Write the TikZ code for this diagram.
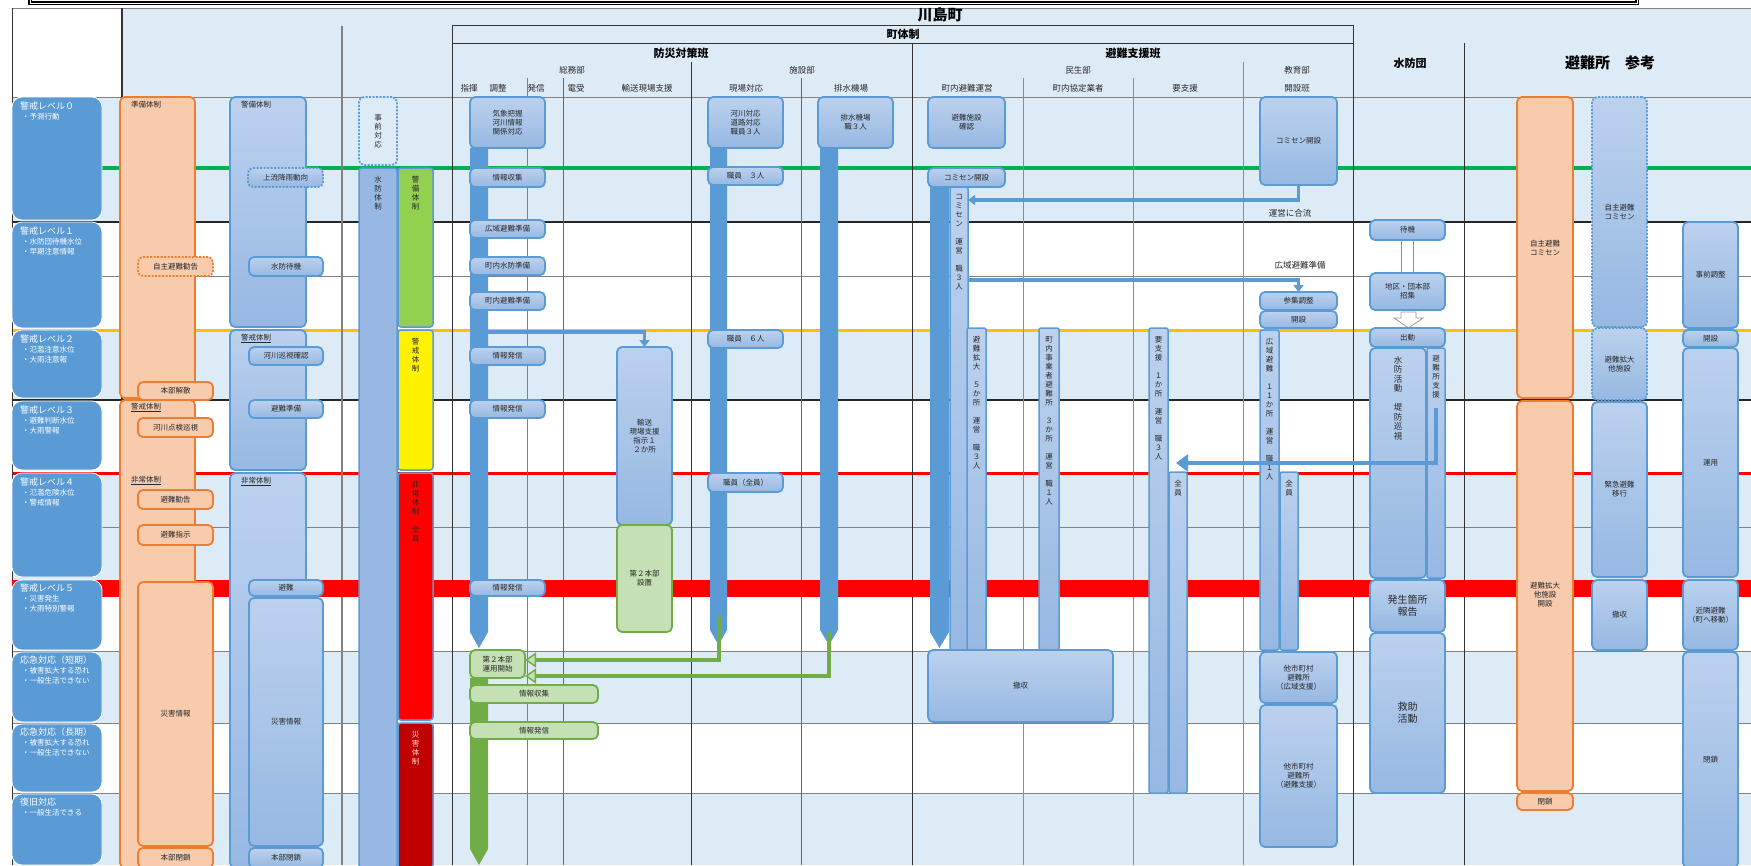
\documentclass[tikz,border=0pt]{standalone}
\usepackage{fontspec}
\setmainfont{Noto Sans CJK JP}
\usetikzlibrary{arrows.meta,calc}
\definecolor{bgb}{RGB}{221,235,247}
\definecolor{lvb}{RGB}{91,155,213}
\definecolor{bxb}{RGB}{150,184,226}
\definecolor{bxt}{RGB}{188,209,238}
\definecolor{bxd}{RGB}{91,155,213}
\definecolor{orf}{RGB}{248,203,173}
\definecolor{ord}{RGB}{237,125,49}
\definecolor{grf}{RGB}{197,224,180}
\definecolor{grd}{RGB}{112,173,71}
\definecolor{lnG}{RGB}{0,176,80}
\definecolor{lnY}{RGB}{255,192,0}
\definecolor{lnR}{RGB}{255,0,0}
\definecolor{gyl}{RGB}{130,130,130}
\definecolor{txt}{RGB}{40,40,40}
\definecolor{dkred}{RGB}{192,0,0}
\definecolor{lgreen}{RGB}{146,208,80}
\ExplSyntaxOn
\NewDocumentCommand\tate{m}{\seq_set_split:Nnn \l_tmpa_seq {} {#1}\seq_use:Nn \l_tmpa_seq {\\}}
\ExplSyntaxOff
% rectangle node from its corners: style, name, x1, y1, x2, y2, text
\newcommand\R[7]{\node[#1,minimum width={#5-#3},minimum height={#6-#4}] (#2) at ({(#3+#5)/2},{(#4+#6)/2}) {#7};}
\newcommand\lvh[1]{{\fontsize{9}{11}\selectfont #1}}
\begin{document}
\begin{tikzpicture}[x=1pt,y=-1pt,
  box/.style={rectangle, inner sep=1pt, outer sep=0pt, align=center, text=txt, font=\fontsize{7.5}{9}\selectfont},
  bb/.style={box, rounded corners=5pt, top color=bxt, bottom color=bxb, draw=bxd, line width=1.8pt},
  bbd/.style={bb, dash pattern=on 2pt off 1.5pt},
  bbn/.style={box, rounded corners=2pt, top color=bxt, bottom color=bxb, draw=bxd, line width=1.5pt},
  ob/.style={box, rounded corners=5pt, fill=orf, draw=ord, line width=1.8pt},
  obd/.style={ob, dash pattern=on 2pt off 1.5pt},
  gb/.style={box, rounded corners=5pt, fill=grf, draw=grd, line width=1.8pt},
  cb/.style={box, rounded corners=3pt, draw=bxd, line width=1.5pt},
  lv/.style={rectangle, rounded corners=10pt, fill=lvb, draw=white, line width=0.8pt, inner sep=0},
  lvt/.style={text=white, anchor=north west, align=left, inner sep=0, font=\fontsize{7.5}{10}\selectfont},
  hd/.style={font=\bfseries\fontsize{11}{12}\selectfont, text=black, inner sep=0},
  sub/.style={font=\fontsize{8.5}{10}\selectfont, text=txt, inner sep=0},
  lab/.style={anchor=north west, inner sep=0, font=\fontsize{7.5}{9}\selectfont, text=txt},
  vt/.style={inner sep=0, align=center, font=\fontsize{7.5}{9}\selectfont, text=txt},
  bconn/.style={draw=lvb, line width=3.5pt, -{Triangle[length=7pt,width=10pt]}},
  gconn/.style={draw=grd, line width=4pt, -{Triangle[length=11pt,width=15pt,fill=grf,line width=1.5pt]}}
]
\useasboundingbox (0,0) rectangle (1751,865);
\fill[white] (0,0) rectangle (1751,865);

% row shading
\fill[bgb] (122,8) rectangle (1751,97);
\fill[bgb] (12,97) rectangle (1751,222);
\fill[bgb] (12,330) rectangle (1751,400);
\fill[bgb] (12,473) rectangle (1751,580);
\fill[bgb] (12,651) rectangle (1751,723);
\fill[bgb] (12,793) rectangle (1751,865);

% title frame
\draw[black, line width=1.2pt, double, double distance=1pt] (30,-8) rectangle (1637,3);

% level separators
\draw[gyl, line width=1pt] (12,8) -- (1751,8);
\draw[gyl, line width=1pt] (12,97) -- (1751,97);
\draw[lnG, line width=3.5pt] (12,168) -- (1751,168);
\draw[black!85, line width=1.2pt] (12,222) -- (1751,222);
\draw[gyl, line width=1pt] (12,276) -- (1751,276);
\draw[lnY, line width=3pt] (12,330) -- (1751,330);
\draw[black!85, line width=1.2pt] (12,400) -- (1751,400);
\draw[lnR, line width=3pt] (12,473) -- (1751,473);
\draw[gyl, line width=1pt] (12,527) -- (1751,527);
\draw[gyl, line width=1pt] (12,651) -- (1751,651);
\draw[gyl, line width=1pt] (12,723) -- (1751,723);
\draw[gyl, line width=1pt] (12,793) -- (1751,793);

% column rules
\draw[black!80, line width=1pt] (12,8) -- (12,865);
\draw[black!80, line width=1.2pt] (122,8) -- (122,865);
\draw[gyl, line width=1.5pt] (342,26) -- (342,865);
\draw[black!50, line width=0.6pt] (527,78) -- (527,865);
\draw[black!60, line width=0.8pt] (563,78) -- (563,865);
\draw[black!60, line width=0.8pt] (801,78) -- (801,865);
\draw[black!45, line width=0.6pt] (1023,78) -- (1023,865);
\draw[black!45, line width=0.6pt] (1133,78) -- (1133,865);
\draw[black!45, line width=0.6pt] (1243,62) -- (1243,865);
\draw[black!80, line width=1pt] (691,62) -- (691,865);
\draw[black!80, line width=1pt] (912,43) -- (912,865);
\draw[black!80, line width=1pt] (452,865) -- (452,25) -- (1353,25) -- (1353,865);
\draw[black!80, line width=1pt] (452,43) -- (1353,43);
\draw[black!80, line width=1pt] (1464,43) -- (1464,865);
\fill[lnR] (12,580) rectangle (1751,597);

% headings
\node[hd, font=\bfseries\fontsize{15}{16}\selectfont] (kawajima) at (940,15) {川島町};
\node[hd] (machi) at (903,34) {町体制};
\node[hd] (bousai) at (681,53) {防災対策班};
\node[hd] (hinanhan) at (1133,53) {避難支援班};
\node[hd] (suiboudan) at (1410,63) {水防団};
\node[hd, font=\bfseries\fontsize{15}{16}\selectfont] (shelter) at (1610,63) {避難所　参考};
\node[sub] (soumu) at (572,70) {総務部};
\node[sub] (shisetsu) at (802,70) {施設部};
\node[sub] (minsei) at (1078,70) {民生部};
\node[sub] (kyoikub) at (1297,70) {教育部};
\node[sub] (h1) at (469,88) {指揮};
\node[sub] (h2) at (498,88) {調整};
\node[sub] (h3) at (536,88) {発信};
\node[sub] (h4) at (576,88) {電受};
\node[sub] (h5) at (647,88) {輸送現場支援};
\node[sub] (h6) at (746,88) {現場対応};
\node[sub] (h7) at (851,88) {排水機場};
\node[sub] (h8) at (967,88) {町内避難運営};
\node[sub] (h9) at (1078,88) {町内協定業者};
\node[sub] (h10) at (1185,88) {要支援};
\node[sub] (h11) at (1297,88) {開設班};

% alert levels
\R{lv}{L0}{12}{97}{102}{220}{}
\R{lv}{L1}{12}{222}{102}{328}{}
\R{lv}{L2}{12}{330}{102}{398}{}
\R{lv}{L3}{12}{401}{102}{470}{}
\R{lv}{L4}{12}{473}{102}{577}{}
\R{lv}{L5}{12}{580}{102}{650}{}
\R{lv}{L6}{12}{652}{102}{722}{}
\R{lv}{L7}{12}{724}{102}{792}{}
\R{lv}{L8}{12}{794}{102}{865}{}
\node[lvt] (L0t) at (20,102) {\lvh{警戒レベル０}\\\hspace{2pt}・予測行動};
\node[lvt] (L1t) at (20,227) {\lvh{警戒レベル１}\\\hspace{2pt}・水防団待機水位\\\hspace{2pt}・早期注意情報};
\node[lvt] (L2t) at (20,335) {\lvh{警戒レベル２}\\\hspace{2pt}・氾濫注意水位\\\hspace{2pt}・大雨注意報};
\node[lvt] (L3t) at (20,406) {\lvh{警戒レベル３}\\\hspace{2pt}・避難判断水位\\\hspace{2pt}・大雨警報};
\node[lvt] (L4t) at (20,478) {\lvh{警戒レベル４}\\\hspace{2pt}・氾濫危険水位\\\hspace{2pt}・警戒情報};
\node[lvt] (L5t) at (20,584) {\lvh{警戒レベル５}\\\hspace{2pt}・災害発生\\\hspace{2pt}・大雨特別警報};
\node[lvt] (L6t) at (20,656) {\lvh{応急対応（短期）}\\\hspace{2pt}・被害拡大する恐れ\\\hspace{2pt}・一般生活できない};
\node[lvt] (L7t) at (20,728) {\lvh{応急対応（長期）}\\\hspace{2pt}・被害拡大する恐れ\\\hspace{2pt}・一般生活できない};
\node[lvt] (L8t) at (20,798) {\lvh{復旧対応}\\\hspace{2pt}・一般生活できる};

% orange column
\R{ob}{jb}{120}{97}{195}{398}{}
\R{ob}{kb}{120}{400}{195}{868}{}
\node[lab] (jbt) at (131,101) {準備体制};
\node[lab] (kbt) at (131,403) {\underline{警戒体制}};
\node[lab] (hbt) at (131,476) {\underline{非常体制}};
\R{obd}{jishu}{138}{257}{213}{276}{自主避難勧告}
\R{ob}{honbu1}{138}{382}{213}{400}{本部解散}
\R{ob}{kasen1}{138}{418}{213}{437}{河川点検巡視}
\R{ob}{kankoku}{138}{490}{213}{509}{避難勧告}
\R{ob}{shiji}{138}{525}{213}{545}{避難指示}
\R{ob}{saigai1}{138}{582}{213}{846}{災害情報}
\R{ob}{heisa1}{138}{848}{213}{868}{本部閉鎖}

% blue column
\R{bb}{kb1}{230}{97}{306}{327}{}
\R{bb}{kb2}{230}{330}{306}{470}{}
\R{bb}{kb3}{230}{473}{306}{868}{}
\node[lab] (kb1t) at (241,101) {警備体制};
\node[lab] (kb2t) at (241,334) {\underline{警戒体制}};
\node[lab] (kb3t) at (241,477) {\underline{非常体制}};
\R{bbd}{joryu}{248}{168}{323}{187}{上流降雨動向}
\R{bb}{suibou1}{249}{257}{323}{276}{水防待機}
\R{bb}{kasen2}{249}{347}{323}{365}{河川巡視確認}
\R{bb}{junbi}{249}{400}{323}{418}{避難準備}
\R{bb}{hinan2}{249}{580}{323}{596}{避難}
\R{bb}{saigai2}{249}{598}{323}{846}{災害情報}
\R{bb}{heisa2}{249}{848}{323}{868}{本部閉鎖}

% system bars
\R{bbd, fill=bgb, top color=bgb, bottom color=bgb}{jizen}{359}{97}{397}{165}{\tate{事前対応}}
\R{cb, fill=bxb}{suiboutai}{359}{168}{397}{868}{}
\node[vt, anchor=north] (suiboutait) at (378,176) {\tate{水防体制}};
\R{cb, fill=lgreen}{keibi}{398}{168}{433}{327}{}
\node[vt, anchor=north] (keibit) at (415.5,176) {\tate{警備体制}};
\R{cb, fill=yellow}{keikai}{398}{330}{433}{470}{}
\node[vt, anchor=north] (keikait) at (415.5,338) {\tate{警戒体制}};
\R{cb, fill=lnR}{hijou}{398}{473}{433}{720}{}
\node[vt, anchor=north] (hijout) at (415.5,481) {\tate{非常体制　全員}};
\R{cb, fill=dkred}{saigaitai}{398}{723}{433}{868}{}
\node[vt, anchor=north, text=white!85!red] (saigaitait) at (415.5,731) {\tate{災害体制}};

% command column
\fill[lvb] (470,148) -- (488,148) -- (488,632) -- (479,648) -- (470,632) -- cycle;
\fill[grd] (470,678) -- (488,678) -- (488,849) -- (479,865) -- (470,849) -- cycle;
\R{bb}{shiki0}{470}{97}{545}{148}{気象把握\\河川情報\\関係対応}
\R{bb}{joho1}{470}{168}{545}{187}{情報収集}
\R{bb}{koiki1}{470}{220}{545}{238}{広域避難準備}
\R{bb}{chonai1}{470}{257}{545}{275}{町内水防準備}
\R{bb}{chonai2}{470}{292}{545}{310}{町内避難準備}
\R{bb}{hasshin1}{470}{347}{545}{365}{情報発信}
\R{bb}{hasshin2}{470}{400}{545}{418}{情報発信}
\R{bb}{hasshin3}{470}{580}{545}{596}{情報発信}
\R{bb}{yuso}{617}{347}{672}{525}{輸送\\現場支援\\指示１\\２か所}
\R{gb}{daini1}{617}{525}{672}{632}{第２本部\\設置}
\R{gb}{daini2}{470}{650}{525}{678}{第２本部\\運用開始}
\R{gb}{joho2}{470}{685}{598}{703}{情報収集}
\R{gb}{hasshin4}{470}{722}{598}{739}{情報発信}

% field and pumping columns
\fill[lvb] (710,148) -- (727,148) -- (727,630) -- (718.5,645) -- (710,630) -- cycle;
\fill[lvb] (820,148) -- (838,148) -- (838,630) -- (829,645) -- (820,630) -- cycle;
\R{bb}{genba0}{708}{97}{783}{148}{河川対応\\道路対応\\職員３人}
\R{bb}{genba1}{708}{167}{783}{185}{職員　３人}
\R{bb}{genba2}{708}{330}{783}{348}{職員　６人}
\R{bb}{genba3}{708}{473}{783}{492}{職員（全員）}
\R{bb}{haisui0}{818}{97}{893}{148}{排水機場\\職３人}

% evacuation support
\fill[lvb] (930,187) -- (949,187) -- (949,632) -- (939.5,648) -- (930,632) -- cycle;
\R{bb}{hinan0}{928}{97}{1005}{148}{避難施設\\確認}
\R{bb}{komi1}{928}{168}{1005}{187}{コミセン開設}
\R{bbn}{komiun}{950}{187}{968}{650}{}
\node[vt, anchor=north] (komiunt) at (959,194) {\tate{コミセン　運営　職３人}};
\R{bbn}{kakudai}{967}{328}{986}{650}{}
\node[vt, anchor=north] (kakudait) at (976.5,336) {\tate{避難拡大　５か所　運営　職３人}};
\R{bbn}{kyotei}{1039}{328}{1059}{650}{}
\node[vt, anchor=north] (kyoteit) at (1049,336) {\tate{町内事業者避難所　３か所　運営　職１人}};
\R{bbn}{yoshi}{1149}{328}{1168}{793}{}
\node[vt, anchor=north] (yoshit) at (1158.5,336) {\tate{要支援　１か所　運営　職３人}};
\R{bbn}{yozen}{1169}{472}{1187}{793}{}
\node[vt, anchor=north] (yozent) at (1178,480) {\tate{全員}};
\R{bb}{kyoiku}{1260}{97}{1337}{185}{コミセン開設}
\R{bb}{sanshu}{1260}{292}{1337}{310}{参集調整}
\R{bb}{kaisetsu}{1260}{311}{1337}{328}{開設}
\R{bbn}{koiki}{1260}{330}{1279}{650}{}
\node[vt, anchor=north] (koikit) at (1269.5,338) {\tate{広域避難　１１か所　運営　職１人}};
\R{bbn}{kozen}{1280}{472}{1298}{650}{}
\node[vt, anchor=north] (kozent) at (1289,480) {\tate{全員}};
\R{bb}{tashi1}{1260}{652}{1337}{703}{他市町村\\避難所\\（広域支援）}
\R{bb}{tashi2}{1260}{705}{1337}{847}{他市町村\\避難所\\（避難支援）}
\R{bb}{tesshu}{928}{650}{1113}{722}{撤収}
\node[sub] (goryu) at (1290,213) {運営に合流};
\node[sub] (koikij) at (1300,265) {広域避難準備};

% flood fighting corps
\R{bb}{taiki}{1370}{220}{1445}{240}{待機}
\R{bb}{chiku}{1370}{273}{1445}{310}{地区・団本部\\招集}
\draw[lvb, line width=1.5pt] ([xshift=-6pt]taiki.south) -- ([xshift=-6pt]chiku.north);
\draw[lvb, line width=1.5pt] ([xshift=6pt]taiki.south) -- ([xshift=6pt]chiku.north);
\draw[gray!80, fill=white, line width=0.8pt] (1401,312) -- (1416,312) -- (1416,318) -- (1423,318) -- (1408.5,328) -- (1394,318) -- (1401,318) -- cycle;
\R{bb}{shutsudo}{1370}{328}{1445}{347}{出動}
\R{bb}{katsudo}{1370}{348}{1426}{578}{}
\node[vt, anchor=north, font=\fontsize{8.5}{9.5}\selectfont] (katsudot) at (1398,356) {\tate{水防活動　堤防巡視}};
\R{bbn}{shien}{1427}{348}{1445}{578}{}
\node[vt, anchor=north] (shient) at (1436,355) {\tate{避難所支援}};
\R{bb, font=\fontsize{10}{12}\selectfont}{hassei}{1370}{580}{1445}{632}{発生箇所\\報告}
\R{bb, font=\fontsize{10}{12}\selectfont}{kyujo}{1370}{633}{1445}{793}{救助\\活動}

% shelters
\R{ob}{jishu2}{1517}{97}{1573}{398}{自主避難\\コミセン}
\R{ob}{kakudai2}{1517}{401}{1573}{791}{}
\node[vt, anchor=north] (kakudai2t) at (1545,582) {避難拡大\\他施設\\開設};
\R{ob}{heisa3}{1517}{793}{1573}{810}{閉鎖}
\R{bbd}{jishu3}{1592}{97}{1647}{327}{自主避難\\コミセン}
\R{bbd}{kakudai3}{1592}{328}{1647}{400}{避難拡大\\他施設}
\R{bb}{kinkyu}{1592}{402}{1647}{577}{緊急避難\\移行}
\R{bb}{tesshu2}{1592}{580}{1647}{650}{撤収}
\R{bb}{jizenc}{1683}{222}{1738}{328}{事前調整}
\R{bb}{kaisetsu2}{1683}{330}{1738}{347}{開設}
\R{bb}{unyo}{1683}{348}{1738}{577}{運用}
\R{bb}{kinrin}{1683}{580}{1738}{650}{近隣避難\\（町へ移動）}
\R{bb}{heisa4}{1683}{652}{1738}{868}{閉鎖}

% connectors
\coordinate (b1s) at (488,332);
\draw[bconn] (b1s) -| (yuso.north);
\draw[bconn] (kyoiku.south) |- ([yshift=-13pt]komiun.north east);
\draw[bconn] ([yshift=-93pt]komiun.north east) -| (sanshu.north);
\coordinate (b4s) at (1436,408);
\draw[draw=lvb, line width=4.5pt, -{Triangle[length=12pt,width=17pt]}] (b4s) |- ($(yoshi.north east)+(8,135)$);
\coordinate (g1s) at (718.5,616);
\coordinate (g2s) at (829,632);
\draw[gconn] (g1s) |- ([yshift=-10pt]daini2.north east);
\draw[gconn] (g2s) |- ([yshift=2pt]daini2.south east);
\end{tikzpicture}
\end{document}
